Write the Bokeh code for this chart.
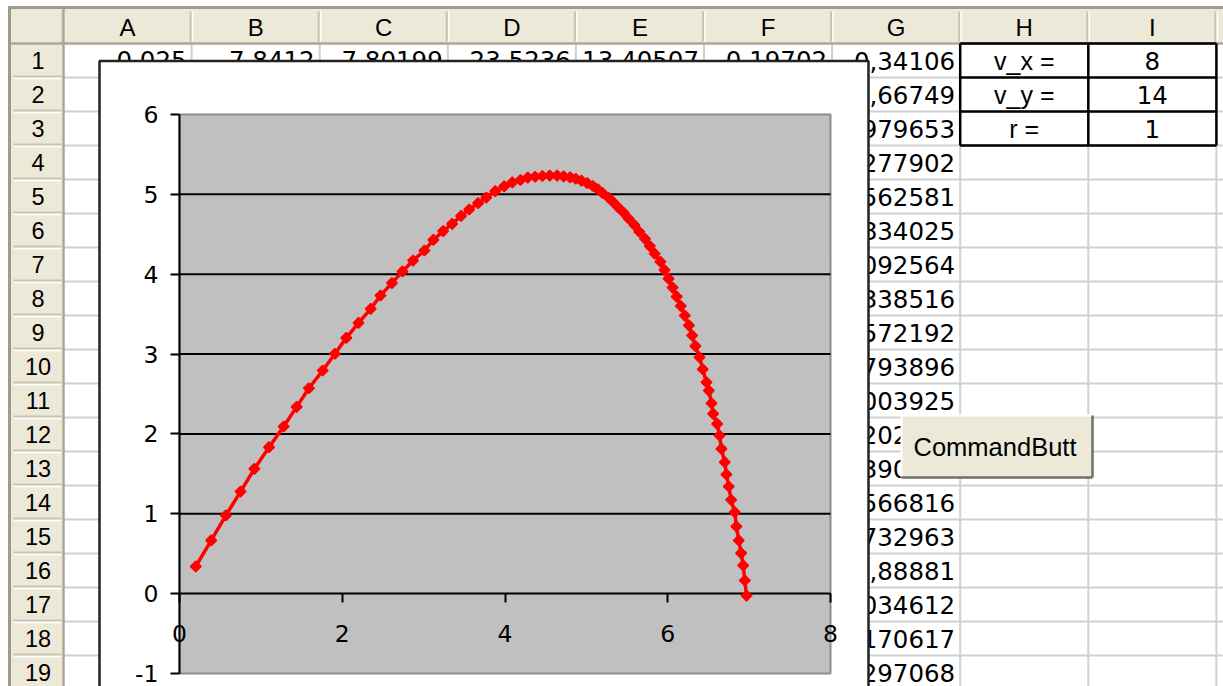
import math
from bokeh.plotting import figure
from bokeh.models import Range1d, LinearAxis, FixedTicker
from bokeh.core.properties import value
from bokeh.embed import file_html
from bokeh.resources import INLINE

# ---------------- data ----------------
col_letters = ["A", "B", "C", "D", "E", "F", "G", "H", "I"]
row_numbers = [str(i) for i in range(1, 20)]
row1_values = ["0,025", "7,8412", "7,80199", "23,5236", "13,40507", "0,19702"]   # A1..F1
g_values = ["0,34106", "0,66749", "0,979653", "1,277902", "1,562581", "1,834025",
            "2,092564", "2,338516", "2,572192", "2,793896", "3,003925", "3,202534",
            "3,390047", "3,566816", "3,732963", "3,88881", "4,034612", "4,170617",
            "4,297068"]                                                           # G1..G19
param_labels = ["v_x =", "v_y =", "r ="]
param_values = ["8", "14", "1"]
button_label = "CommandButt"

x_ticks = [0, 2, 4, 6, 8]
y_ticks = [-1, 0, 1, 2, 3, 4, 5, 6]

traj_x = [0.20, 0.39, 0.57, 0.75, 0.92, 1.10, 1.28, 1.44, 1.59, 1.76,
          1.91, 2.05, 2.20, 2.35, 2.47, 2.61, 2.74, 2.87, 3.01, 3.12,
          3.24, 3.35, 3.46, 3.56, 3.67, 3.77, 3.88, 3.99, 4.09, 4.19,
          4.28, 4.37, 4.46, 4.55, 4.64,
          4.72, 4.80, 4.87, 4.94, 5.01, 5.08, 5.14, 5.20, 5.27, 5.33,
          5.39, 5.46, 5.52, 5.59, 5.65, 5.72, 5.78, 5.84, 5.91, 5.96,
          6.01, 6.06, 6.11, 6.16, 6.21, 6.26, 6.30, 6.34, 6.39, 6.43,
          6.476, 6.505, 6.538, 6.558, 6.607, 6.636, 6.660, 6.700, 6.721, 6.750,
          6.779, 6.823, 6.844, 6.873, 6.902, 6.927, 6.947, 6.968]
traj_y = [0.341, 0.667, 0.980, 1.278, 1.563, 1.834, 2.093, 2.339, 2.572, 2.794,
          3.004, 3.203, 3.390, 3.567, 3.733, 3.889, 4.035, 4.171, 4.297, 4.43,
          4.54, 4.63, 4.73, 4.81, 4.89, 4.96, 5.04, 5.10, 5.15, 5.18,
          5.21, 5.22, 5.23, 5.235, 5.235,
          5.225, 5.213, 5.195, 5.171, 5.141, 5.105, 5.063, 5.015, 4.961, 4.902,
          4.838, 4.769, 4.695, 4.616, 4.532, 4.444, 4.352, 4.256, 4.156, 4.052,
          3.944, 3.833, 3.719, 3.602, 3.482, 3.359, 3.233, 3.10, 2.96, 2.81,
          2.647, 2.543, 2.384, 2.252, 2.126, 1.980, 1.813, 1.646, 1.492, 1.342,
          1.175, 1.020, 0.841, 0.666, 0.507, 0.353, 0.165, -0.024]

# ---------------- layout (reference pixel geometry) ----------------
W, H = 1223, 686
X0, Y0 = 0, 0
X1, Y1 = X0 + W, Y0 + H
HDR_L, HDR_R = 10, 63         # row-header column
HDR_T, HDR_B = 8, 43          # column-header row
COL_W = 128.1
ROW_H = 34.0
n_cols = len(col_letters)
n_rows = len(row_numbers)
col_left = [HDR_R + i * COL_W for i in range(n_cols)]
row_top = [HDR_B + i * ROW_H for i in range(n_rows)]
GRID_R = col_left[-1] + COL_W

# chart geometry
CH_L, CH_T, CH_R, CH_B = 99, 60.5, 868, 700
PA_L, PA_R, PA_T, PA_B = 179, 830, 114, 673
xmin, xmax = x_ticks[0], x_ticks[-1]
ymin, ymax = y_ticks[0], y_ticks[-1]
sx = (PA_R - PA_L) / (xmax - xmin)
sy = (PA_B - PA_T) / (ymax - ymin)

p = figure(width=W, height=H, x_range=Range1d(X0, X1), y_range=Range1d(Y1, Y0),
           output_backend="svg", toolbar_location=None, min_border=0,
           x_axis_location=None, y_axis_location=None)
p.grid.visible = False
p.outline_line_color = None
p.background_fill_color = "white"
p.border_fill_color = "white"

p.extra_x_ranges = {"cx": Range1d(xmin + (X0 - PA_L) / sx, xmin + (X1 - PA_L) / sx)}
p.extra_y_ranges = {"cy": Range1d(ymin - (Y1 - PA_B) / sy, ymax + (PA_T - Y0) / sy)}

HDR_BG = "#ECE9D8"
HDR_LINE = "#ACA899"
CELL_LINE = "#D0D0D0"
ARIAL = value("Liberation Sans")
NUMF = value("DejaVu Sans")

# ---- cell grid lines ----
vx = col_left[1:] + [GRID_R]
p.segment(x0=vx, y0=[HDR_B] * len(vx), x1=vx, y1=[Y1 + 10] * len(vx), line_color=CELL_LINE, line_width=2)
p.segment(x0=[HDR_R] * n_rows, y0=[r + ROW_H for r in row_top],
          x1=[X1 + 10] * n_rows, y1=[r + ROW_H for r in row_top], line_color=CELL_LINE, line_width=2)

# ---- headers ----
p.quad(left=[HDR_L], right=[X1 + 10], top=[HDR_T], bottom=[HDR_B], fill_color=HDR_BG, line_color=None)
p.quad(left=[HDR_L], right=[HDR_R], top=[HDR_B], bottom=[Y1 + 10], fill_color=HDR_BG, line_color=None)
sep_x = [HDR_R] + col_left[1:] + [GRID_R]
p.segment(x0=[x - 1 for x in sep_x], y0=[HDR_T + 3] * len(sep_x), x1=[x - 1 for x in sep_x], y1=[HDR_B - 2] * len(sep_x),
          line_color="#C7C4B2", line_width=2)
p.segment(x0=[x + 1 for x in sep_x], y0=[HDR_T + 3] * len(sep_x), x1=[x + 1 for x in sep_x], y1=[HDR_B - 2] * len(sep_x),
          line_color="white", line_width=1.5)
sep_y = [r + ROW_H for r in row_top]
p.segment(x0=[HDR_L + 3] * n_rows, y0=[y - 1 for y in sep_y], x1=[HDR_R - 2] * n_rows, y1=[y - 1 for y in sep_y],
          line_color="#C7C4B2", line_width=2)
p.segment(x0=[HDR_L + 3] * n_rows, y0=[y + 1 for y in sep_y], x1=[HDR_R - 2] * n_rows, y1=[y + 1 for y in sep_y],
          line_color="white", line_width=1.5)
p.segment(x0=[HDR_L, HDR_R], y0=[HDR_B, HDR_T], x1=[X1 + 10, HDR_R], y1=[HDR_B, Y1 + 10],
          line_color=HDR_LINE, line_width=2.5)
# window frame
p.segment(x0=[HDR_L - 2, HDR_L - 1], y0=[HDR_T - 1, HDR_T - 2], x1=[X1 + 10, HDR_L - 1], y1=[HDR_T - 1, Y1 + 10],
          line_color="#9E9B8C", line_width=3)

p.text(x=[c + COL_W / 2 for c in col_left], y=[(HDR_T + HDR_B) / 2 + 1] * n_cols, text=col_letters,
       text_font=ARIAL, text_font_size="24px", text_align="center", text_baseline="middle", text_color="black")
p.text(x=[(HDR_L + HDR_R) / 2 + 1] * n_rows, y=[r + ROW_H / 2 for r in row_top], text=row_numbers,
       text_font=ARIAL, text_font_size="23.5px", text_align="center", text_baseline="middle", text_color="black")

# ---- cell contents ----
p.text(x=[col_left[i] + COL_W - 5 for i in range(len(row1_values))], y=[row_top[0] + ROW_H / 2 - 1] * len(row1_values),
       text=row1_values, text_font=NUMF, text_font_size="24.5px", text_align="right", text_baseline="middle",
       text_color="black")
gi = col_letters.index("G")
p.text(x=[col_left[gi] + COL_W - 5] * len(g_values), y=[r + ROW_H / 2 for r in row_top[:len(g_values)]],
       text=g_values, text_font=NUMF, text_font_size="24.5px", text_align="right", text_baseline="middle",
       text_color="black")
hi = col_letters.index("H")
ii = col_letters.index("I")
p.text(x=[col_left[hi] + COL_W / 2] * 3, y=[r + ROW_H / 2 for r in row_top[:3]], text=param_labels,
       text_font=ARIAL, text_font_size="25px", text_align="center", text_baseline="middle", text_color="black")
p.text(x=[col_left[ii] + COL_W / 2] * 3, y=[r + ROW_H / 2 for r in row_top[:3]], text=param_values,
       text_font=NUMF, text_font_size="24.5px", text_align="center", text_baseline="middle", text_color="black")
bx = [col_left[hi], col_left[ii], GRID_R]
by = [row_top[0], row_top[1], row_top[2], row_top[2] + ROW_H]
p.segment(x0=bx, y0=[by[0]] * 3, x1=bx, y1=[by[-1]] * 3, line_color="black", line_width=2.5)
p.segment(x0=[bx[0]] * 4, y0=by, x1=[bx[-1]] * 4, y1=by, line_color="black", line_width=2.5)

# ---- command button ----
BT_L, BT_R, BT_T, BT_B = 901, 1092, 415, 477
p.quad(left=[BT_L], right=[BT_R], top=[BT_T], bottom=[BT_B], fill_color=HDR_BG, line_color=None)
p.segment(x0=[BT_L, BT_L], y0=[BT_T, BT_T], x1=[BT_R, BT_L], y1=[BT_T, BT_B], line_color="white", line_width=2)
p.segment(x0=[BT_L, BT_R], y0=[BT_B, BT_T], x1=[BT_R, BT_R], y1=[BT_B, BT_B], line_color="#716F64", line_width=2.5)
p.text(x=[BT_L + 12], y=[(BT_T + BT_B) / 2], text=[button_label], text_font=ARIAL, text_font_size="25.5px",
       text_align="left", text_baseline="middle", text_color="black")

# ---- chart area ----
p.quad(left=[CH_L], right=[CH_R], top=[CH_T], bottom=[CH_B], fill_color="white", line_color="#222222", line_width=2.5)
p.quad(left=[xmin], right=[xmax], bottom=[ymin], top=[ymax], x_range_name="cx", y_range_name="cy",
       fill_color="#C0C0C0", line_color="#8C8C8C", line_width=2)
grid_vals = [v for v in y_ticks if v not in (ymin, ymax, 0)]
p.segment(x0=[xmin] * len(grid_vals), y0=grid_vals, x1=[xmax] * len(grid_vals), y1=grid_vals,
          x_range_name="cx", y_range_name="cy", line_color="black", line_width=2)

def style_axis(ax):
    ax.axis_line_color = "black"
    ax.axis_line_width = 2
    ax.major_tick_line_color = "black"
    ax.major_tick_line_width = 2
    ax.major_tick_in = 0
    ax.major_tick_out = 9
    ax.minor_tick_line_color = None
    ax.major_label_text_font = "DejaVu Sans"
    ax.major_label_text_font_size = "23.5px"
    ax.major_label_text_color = "black"

xax = LinearAxis(x_range_name="cx", y_range_name="cy", fixed_location=0, bounds=(xmin, xmax),
                 ticker=FixedTicker(ticks=x_ticks))
style_axis(xax)
xax.major_label_standoff = 22
p.add_layout(xax, "below")
yax = LinearAxis(x_range_name="cx", y_range_name="cy", fixed_location=0, bounds=(ymin, ymax),
                 ticker=FixedTicker(ticks=y_ticks))
style_axis(yax)
yax.major_label_standoff = 12
yax.major_label_overrides = {-1: "-1"}
p.add_layout(yax, "left")

p.line(traj_x, traj_y, x_range_name="cx", y_range_name="cy", line_color="#FF0000", line_width=3.5, level="annotation")
p.scatter(traj_x, traj_y, x_range_name="cx", y_range_name="cy", marker="square", angle=math.pi / 4, size=7.5,
          fill_color="#FF0000", line_color="#FF0000", line_width=1.5, level="annotation")

open("out.html", "w").write(file_html(p, INLINE))
